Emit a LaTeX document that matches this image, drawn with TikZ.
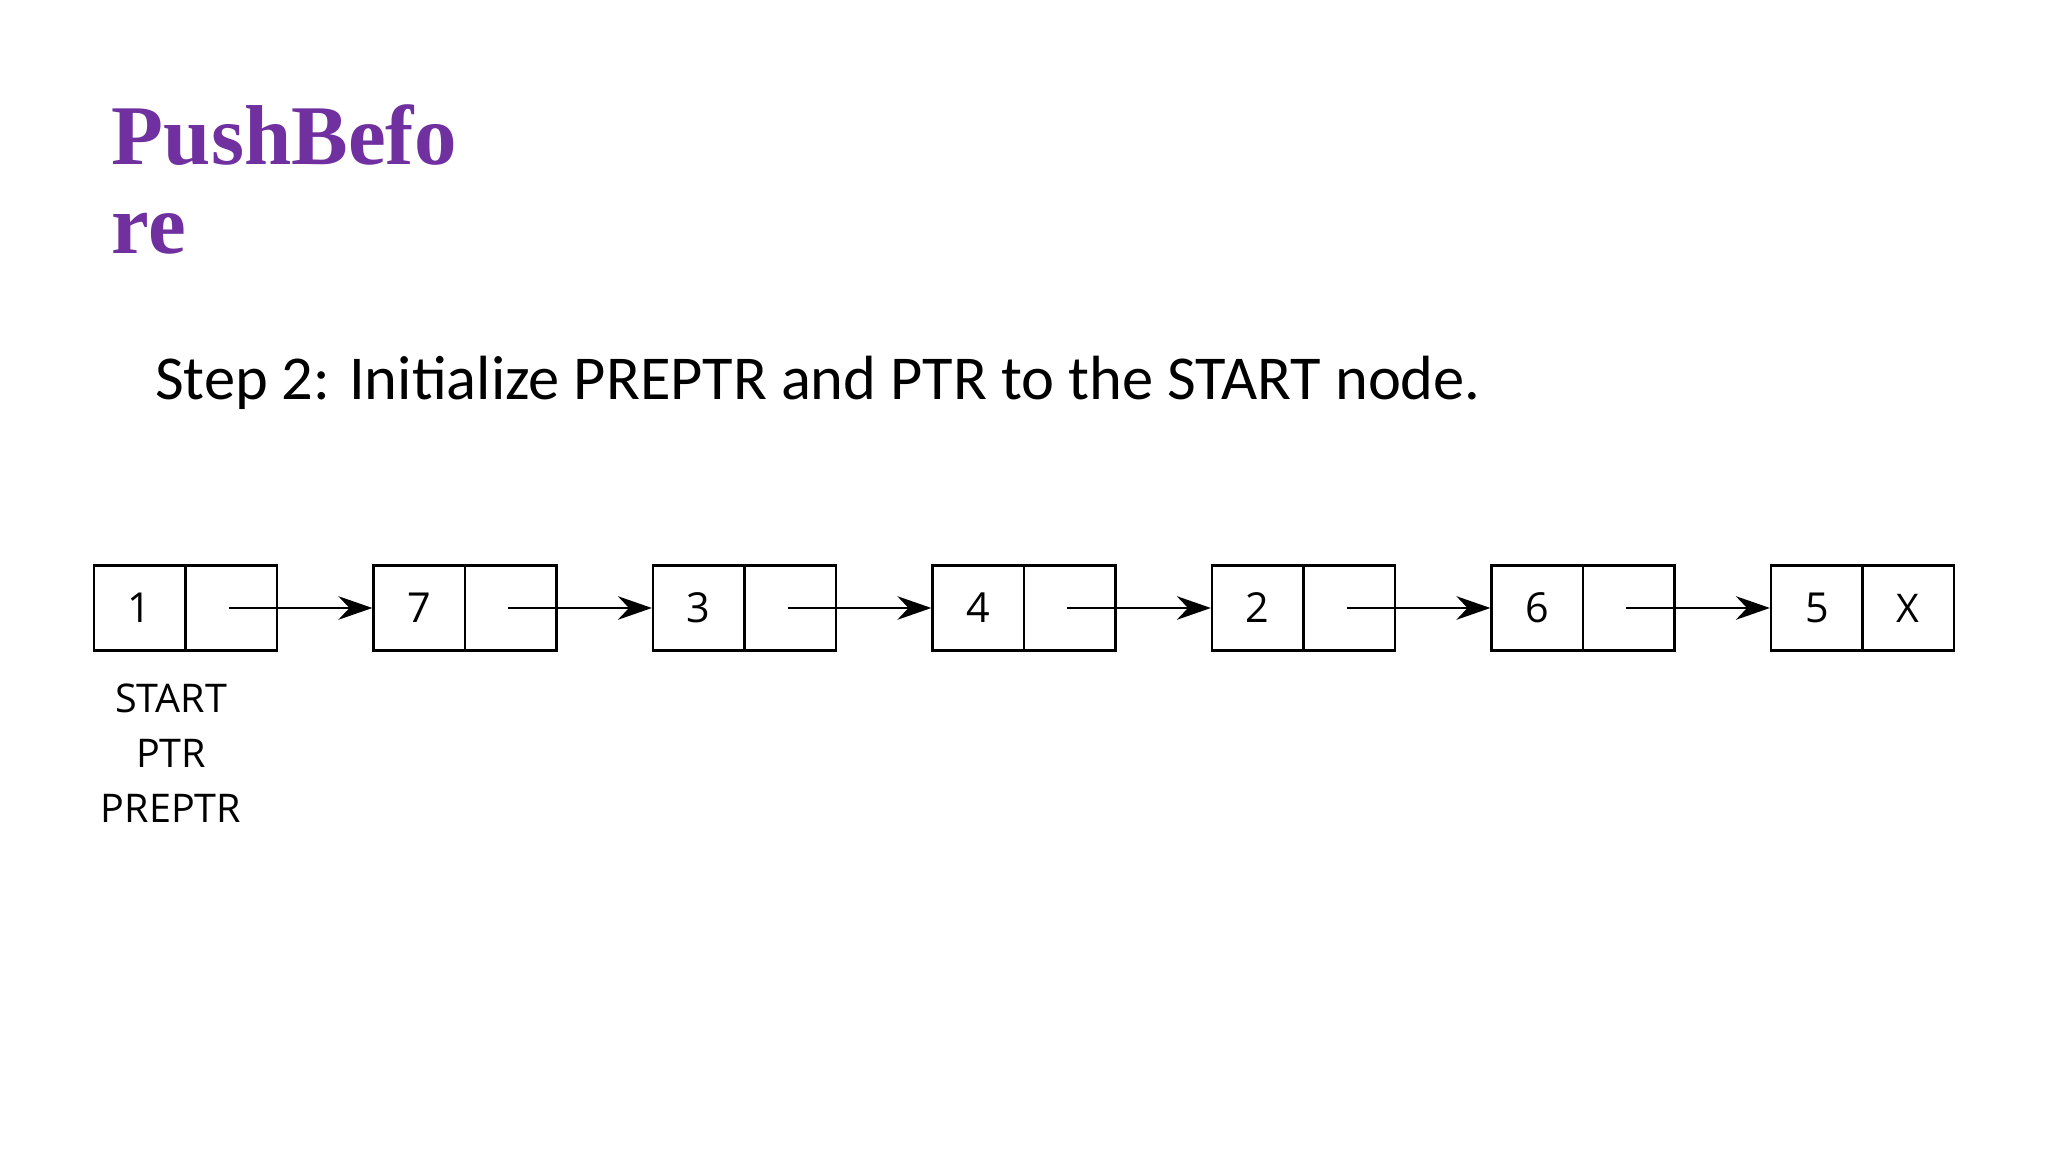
\documentclass[tikz,border=0pt]{standalone}
\usepackage{fontspec}
\setmainfont{Liberation Serif}
\newfontfamily\stepfont{Carlito}
\newfontfamily\boxfont{Open Sans}
\usetikzlibrary{arrows.meta,calc}
\definecolor{titlepurple}{HTML}{7030A0}
\tikzset{
  cell/.style={draw, line width=0.5pt, minimum width=0.7cm, minimum height=0.65cm, inner sep=0pt, font=\boxfont\fontsize{9}{10}\selectfont},
  link/.style={-{Stealth[length=2.6mm,width=1.8mm]}, line width=0.5pt},
  lbl/.style={font=\boxfont\fontsize{8.6}{10}\selectfont, inner sep=0pt}
}
\begin{document}
\begin{tikzpicture}[x=0.01cm,y=-0.01cm]
\useasboundingbox (0,0) rectangle (1568,882);
\node[anchor=base west, inner sep=0pt, font=\bfseries\fontsize{18.5}{20}\selectfont, text=titlepurple] (t1) at (85,126) {PushBefo};
\node[anchor=base west, inner sep=0pt, font=\bfseries\fontsize{18.5}{20}\selectfont, text=titlepurple] (t2) at (85,194) {re};
\node[anchor=base west, inner sep=0pt, font=\stepfont\fontsize{13.6}{16}\selectfont] (st) at (118,306) {Step 2: Initialize PREPTR and PTR to the START node.};
\foreach \i/\v in {0/1,1/7,2/3,3/4,4/2,5/6,6/5}{
  \node[cell] (d\i) at ({107+214*\i},465.5) {\v};
  \node[cell] (p\i) at ({177+214*\i},465.5) {};
}
\node[lbl] at (p6) {X};
\foreach \i [count=\j from 1] in {0,...,5}{
  \coordinate (s\i) at ($(p\i.center)+(-2,0)$);
  \draw[link] (s\i) -- (d\j.west);
}
\node[lbl] (l1) at (131,535) {START};
\node[lbl] (l2) at (131,577) {PTR};
\node[lbl] (l3) at (131,619) {PREPTR};
\end{tikzpicture}
\end{document}
